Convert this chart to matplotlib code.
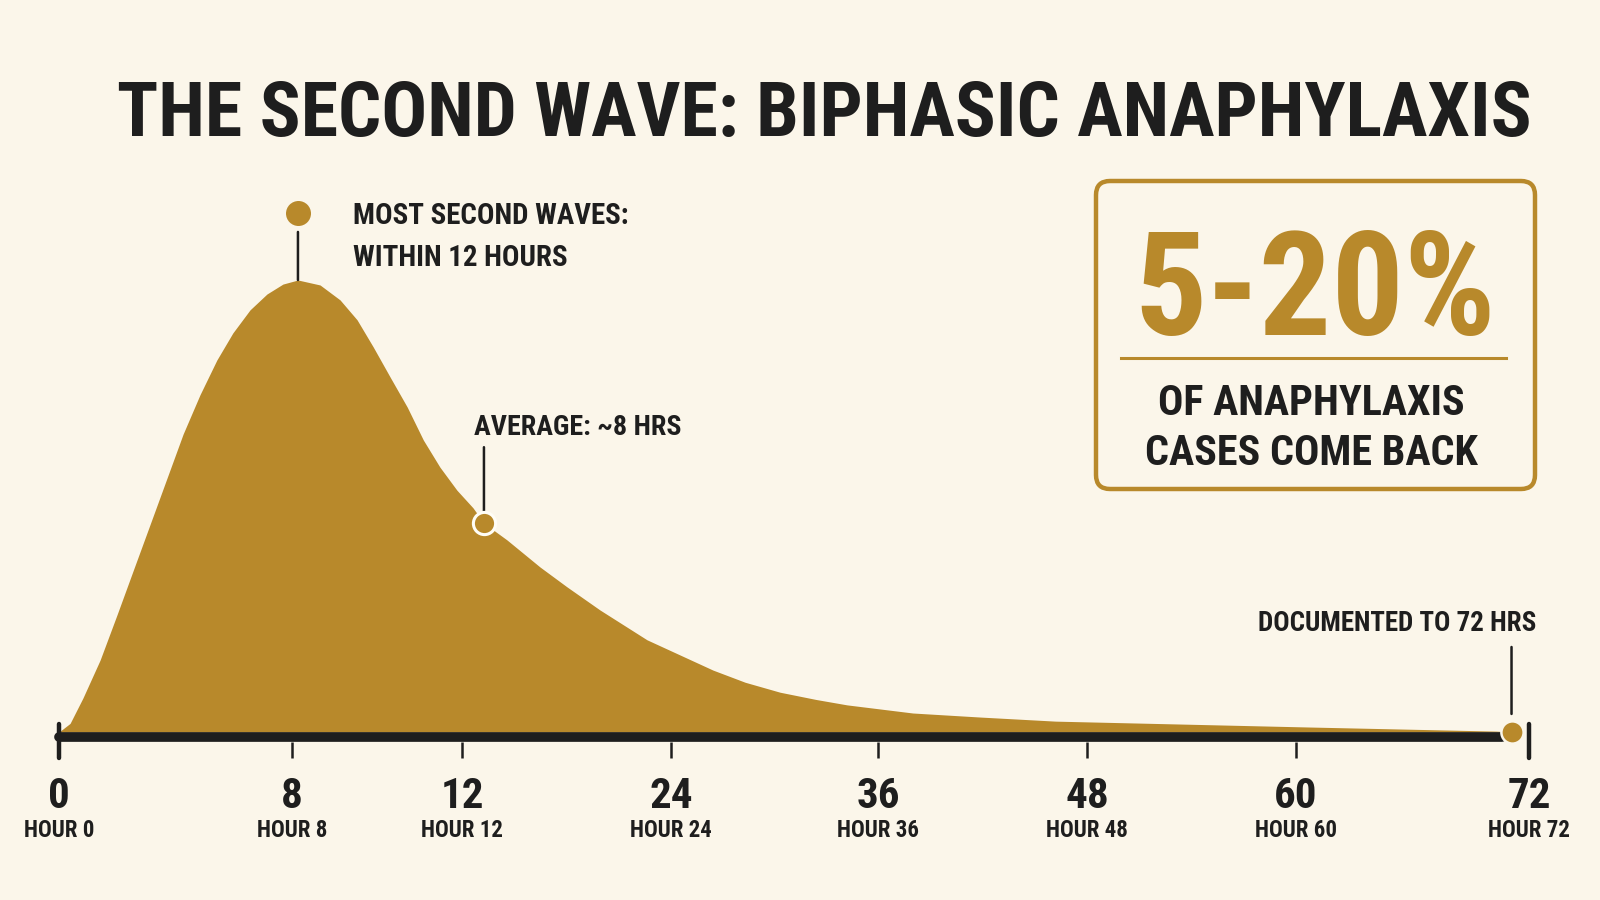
import numpy as np
import matplotlib
matplotlib.use('Agg')
import matplotlib.pyplot as plt
from matplotlib import font_manager
from matplotlib.patches import FancyBboxPatch
from matplotlib.transforms import offset_copy

# Kurvan arvot (tunnit, korkeus % huipusta) luettu kuvasta
HOURS = [0, 0.38, 0.82, 1.41, 1.99, 2.54, 3.12, 3.71, 4.26, 4.84, 5.42, 5.97, 6.56,
         7.14, 7.69, 8.14, 8.66, 9.13, 9.53, 9.91, 10.31, 10.71, 11.09, 11.48,
         11.88, 12.63, 13.26, 14.58, 16.48, 18.03, 19.92, 22.62, 26.43, 28.3,
         30.32, 32.4, 34.2, 38.0, 41.9, 46.2, 60.7, 70.3, 71.1]
SHARE = [0, 1.9, 7.5, 15.9, 25.9, 35.6, 45.8, 56.2, 65.9, 74.6, 82.3, 88.3, 93.4,
         96.9, 99.1, 100, 98.9, 95.6, 91.2, 85.2, 78.5, 71.9, 64.6, 58.6,
         53.5, 49.6, 46.2, 42.5, 36.5, 32.1, 27.0, 20.4, 13.7, 11.0,
         8.8, 7.2, 6.0, 4.2, 3.3, 2.4, 1.1, 0.2, 0]

TICK_HOURS = [0, 8, 12, 24, 36, 48, 60, 72]
TICK_NUMBERS = ['0', '8', '12', '24', '36', '48', '60', '72']
TICK_NAMES = ['HOUR 0', 'HOUR 8', 'HOUR 12', 'HOUR 24', 'HOUR 36', 'HOUR 48',
              'HOUR 60', 'HOUR 72']

PEAK = (8.14, 100)
AVERAGE = (13.26, 46.2)
LAST = (71.1, 0)

TITLE = 'THE SECOND WAVE: BIPHASIC ANAPHYLAXIS'
STAT = '5-20%'
STAT_LINES = ['OF ANAPHYLAXIS', 'CASES COME BACK']
PEAK_LINES = ['MOST SECOND WAVES:', 'WITHIN 12 HOURS']
AVG_LABEL = 'AVERAGE: ~8 HRS'
LAST_LABEL = 'DOCUMENTED TO 72 HRS'

# Tyylit
BG = '#FBF6EA'
GOLD = '#B8892B'
INK = '#1E1E1E'

# Aikajanan epälineaarinen asteikko (tunnit -> kuvan x-pikselit)
STOPS_H = [-2.03, 0, 8, 12, 24, 36, 48, 60, 72, 75.66]
STOPS_PX = [0, 59, 292, 462, 671, 878, 1087, 1296, 1529, 1600]


def valitse_fontti():
    nimet = {f.name for f in font_manager.fontManager.ttflist}
    for n in ['Liberation Sans Narrow', 'Roboto Condensed', 'DejaVu Sans Condensed']:
        if n in nimet:
            return n
    return 'DejaVu Sans'


FONT = valitse_fontti()
plt.rcParams['font.family'] = [FONT, 'DejaVu Sans']
plt.rcParams['font.weight'] = 'bold'


def eteen(h):
    return np.interp(h, STOPS_H, STOPS_PX)


def taakse(p):
    return np.interp(p, STOPS_PX, STOPS_H)


fig = plt.figure(figsize=(16, 9), dpi=100, facecolor=BG)

ax = fig.add_axes([0, 0, 1, 1])
ax.set_facecolor('none')
ax.set_xscale('function', functions=(eteen, taakse))
ax.set_xlim(STOPS_H[0], STOPS_H[-1])
# arvo 0 -> y 732 px, arvo 100 -> y 280 px
ax.set_ylim(-168 / 4.52, 732 / 4.52)
for s in ['top', 'left', 'right']:
    ax.spines[s].set_visible(False)
ax.spines['bottom'].set_position(('data', -2.2))
ax.spines['bottom'].set_linewidth(0)
ax.set_yticks([])

ax.fill_between(HOURS, SHARE, 0, color=GOLD, lw=0, zorder=2)
ax.plot([0, 70.6], [-1.1, -1.1], color=INK, lw=7, solid_capstyle='round', zorder=3)
for h in [TICK_HOURS[0], TICK_HOURS[-1]]:
    ax.plot([h, h], [1.8, -5.75], color=INK, lw=3.2, solid_capstyle='round', zorder=3)

ax.set_xticks(TICK_HOURS)
ax.set_xticklabels(TICK_NUMBERS)
ax.set_xticks(TICK_HOURS, minor=True)
ax.set_xticklabels(TICK_NAMES, minor=True)
ax.xaxis.remove_overlapping_locs = False
ax.tick_params(axis='x', which='major', length=11.5, width=1.8, color=INK, pad=13,
               labelsize=31, labelcolor=INK)
ax.tick_params(axis='x', which='minor', length=0, pad=55.5, labelsize=16.5, labelcolor=INK)

# Merkit ja viittausviivat
peak_tr = offset_copy(ax.transData, fig=fig, x=0, y=67, units='dots')
ax.plot(*PEAK, 'o', ms=18, color=GOLD, mew=0, transform=peak_tr, zorder=5)
ax.annotate('', xy=PEAK, xytext=(0, 34.6), textcoords='offset points',
            arrowprops=dict(arrowstyle='-', lw=1.8, color=INK, shrinkA=0, shrinkB=0))

ax.plot(*AVERAGE, 'o', ms=16, color=GOLD, mec='#FFFDF6', mew=2.2, zorder=5)
ax.annotate('', xy=AVERAGE, xytext=(0, 54.7), textcoords='offset points',
            arrowprops=dict(arrowstyle='-', lw=1.8, color=INK, shrinkA=0, shrinkB=8))

ax.plot(*LAST, 'o', ms=16, color=GOLD, mec=BG, mew=1.8, zorder=5)
ax.annotate('', xy=LAST, xytext=(0, 61.2), textcoords='offset points',
            arrowprops=dict(arrowstyle='-', lw=1.8, color=INK, shrinkA=0, shrinkB=13))

# Pikselikoordinaattinen kerros teksteille ja laatikolle
lay = fig.add_axes([0, 0, 1, 1], zorder=3)
lay.set_xlim(0, 1600)
lay.set_ylim(900, 0)
lay.axis('off')

lay.add_patch(FancyBboxPatch((1096, 181), 439, 308, boxstyle='round,pad=0,rounding_size=14',
                             fc='none', ec=GOLD, lw=3.2))
lay.plot([1121, 1506], [357.5, 357.5], color=GOLD, lw=2.2)


def teksti(x, y, s, size, ha='left', color=INK):
    return lay.text(x, y, s, fontsize=size, ha=ha, va='baseline', color=color)


ryhmat = [
    ([teksti(824, 136, TITLE, 94, ha='center')], [1414]),
    ([teksti(353, 224, PEAK_LINES[0], 27), teksti(353, 266, PEAK_LINES[1], 27)], [276, 222]),
    ([teksti(474, 435, AVG_LABEL, 25)], [208]),
    ([teksti(1536, 631, LAST_LABEL, 21, ha='right')], [279]),
    ([teksti(1315, 335, STAT, 121, ha='center', color=GOLD)], [362]),
    ([teksti(1311, 415, STAT_LINES[0], 31, ha='center'),
      teksti(1311, 465, STAT_LINES[1], 31, ha='center')], [309, 333]),
]

# Sovita tekstit leveyteen
renderer = fig.canvas.get_renderer()
for tekstit, leveydet in ryhmat:
    kerroin = 1.0
    for t, w in zip(tekstit, leveydet):
        kerroin = min(kerroin, w / t.get_window_extent(renderer).width)
    for t in tekstit:
        t.set_fontsize(t.get_fontsize() * kerroin)

fig.savefig('out.png', dpi=100, facecolor=BG)
